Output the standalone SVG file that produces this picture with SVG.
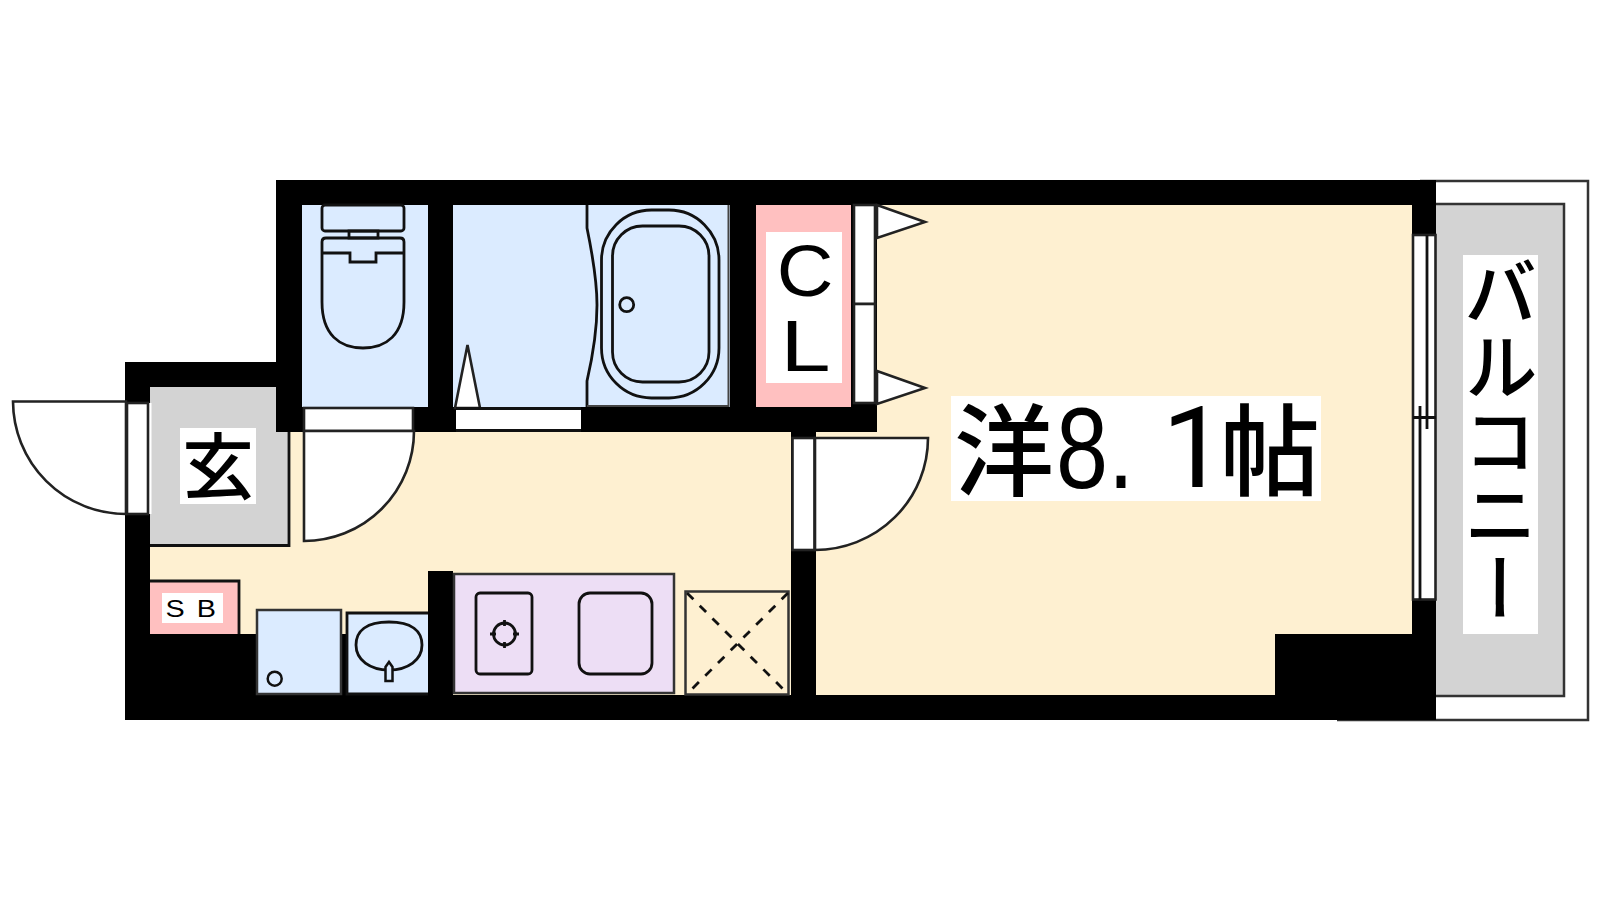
<svg xmlns="http://www.w3.org/2000/svg" width="1600" height="900" viewBox="0 0 1600 900">
<style>
.ln{fill:none;stroke:#111;stroke-width:2.8}
.gl{fill:#fff;stroke:#222;stroke-width:2.6}
.jp{font-family:"Noto Sans CJK JP","Liberation Sans",sans-serif;fill:#000;font-weight:500}
.la{font-family:"Liberation Sans",sans-serif;fill:#000}
.ro{font-family:Roboto,"Liberation Sans",sans-serif;fill:#000;font-weight:400}
</style>
<rect width="1600" height="900" fill="#fff"/>
<g id="balcony">
<path d="M1337,720 H1588 V181 H1420" fill="#fff" stroke="#333" stroke-width="2.500"/>
<rect x="1432" y="204" width="132" height="492" fill="#d3d3d3" stroke="#333" stroke-width="2.500"/>
<rect x="1463" y="255" width="75" height="379" fill="#fff"/>
<text class="jp" x="1500.5" y="255" font-size="74" writing-mode="vertical-rl">バルコニー</text>
</g>
<g id="walls">
<path d="M276,180 H1436 V720 H125 V362 H276 Z" fill="#000"/>
</g>
<g id="room">
<path d="M877,205 H1412 V634 H1275 V695 H816 V432 H877 Z" fill="#fef0d1"/>
<rect x="951" y="396" width="370" height="105" fill="#fff"/>
<text class="jp" y="488" font-size="100"><tspan x="954">洋</tspan><tspan class="la" x="1056" y="488" font-size="115" textLength="78" lengthAdjust="spacingAndGlyphs">8.</tspan><tspan class="ro" x="1162" y="487" font-size="114">1</tspan><tspan x="1220" y="488">帖</tspan></text>
</g>
<g id="corridor">
<path d="M289,432 H791 V695 H453 V571 H428 V634 H150 V545 H289 Z" fill="#fef0d1"/>
</g>
<g id="entrance">
<path d="M150,387 H276 V432 H289 V545.5 H150 Z" fill="#d3d3d3"/>
<path d="M150,545.5 H289 V432" class="ln" stroke="#333"/>
<rect x="180" y="428" width="76" height="76" fill="#fff"/>
<text class="jp" x="182" y="493" font-size="72">玄</text>
<rect x="127" y="403" width="24.500" height="111" fill="#fff"/>
<rect x="127" y="403" width="21" height="111" class="gl"/>
<path d="M126,401.500 H13 A113,113 0 0 0 126,514 Z" class="gl"/>
</g>
<g id="shoebox">
<path d="M150,581 H239 V634 H150 Z" fill="#ffc0c0"/>
<path d="M150,581 H239 V634" class="ln"/>
<rect x="162" y="593" width="61" height="30" fill="#fff"/>
<text class="la" transform="translate(165.500,616.500) scale(1.2,1)" x="0 26" y="0" font-size="24">SB</text>
</g>
<g id="washer">
<rect x="257" y="610" width="84" height="84" fill="#dbebff" stroke="#333" stroke-width="2.500"/>
<circle cx="274.700" cy="678.700" r="7" fill="none" stroke="#111" stroke-width="2.500"/>
</g>
<g id="basin">
<rect x="347" y="613" width="81" height="81" fill="#dbebff"/>
<path d="M428,613 H347 V694 H428" class="ln" stroke="#333"/>
<path d="M389,622 C412,622 422,631 422,645 C422,660 408,670 389,670 C370,670 356,660 356,645 C356,631 366,622 389,622 Z" class="ln"/>
<path d="M385.500,681 V667 L389,662 L392.500,667 V681 Z" fill="#dbebff" stroke="#111" stroke-width="2.500"/>
</g>
<g id="kitchen">
<rect x="454" y="574" width="220" height="119" fill="#eddef5" stroke="#333" stroke-width="2.500"/>
<rect x="476" y="593" width="56" height="81" rx="4" class="ln"/>
<circle cx="504.500" cy="634" r="11" class="ln"/>
<path d="M504.500,620 V626 M504.500,642 V648 M490,634 H496 M513,634 H519" class="ln"/>
<rect x="579" y="593" width="73" height="81" rx="11" class="ln"/>
</g>
<g id="fridge">
<rect x="685.500" y="591.500" width="103" height="103" fill="#fef0d1" stroke="#333" stroke-width="2.500"/>
<path d="M687,593 L788,694 M788,593 L687,694" class="ln" stroke-dasharray="9 9" stroke-width="3"/>
</g>
<g id="toilet">
<rect x="302" y="205" width="126" height="202" fill="#dbebff"/>
<rect x="322" y="205" width="82" height="26" rx="3" class="ln"/>
<rect x="349" y="231" width="29" height="7" class="ln"/>
<path d="M322,253 V242 Q322,238 326,238 H400 Q404,238 404,242 V253 M322,253 H350 V262 H376 V253 H404" class="ln"/>
<path d="M322,253 V302 C322,335 340,348 363,348 C386,348 404,335 404,302 V253" class="ln"/>
<rect x="304" y="408" width="109" height="23" class="gl"/>
<path d="M304,431 H414 A110,110 0 0 1 304,541 Z" class="gl"/>
</g>
<g id="bath">
<rect x="453" y="205" width="277" height="202" fill="#dbebff"/>
<path d="M587,205 V228 C594,262 597,285 597,305 C597,330 593,355 587,381 V407" class="ln"/>
<path d="M587,406 H728.500 V205" fill="none" stroke="#444" stroke-width="2"/>
<rect x="601.500" y="210" width="117.500" height="188" rx="50" class="ln"/>
<rect x="612.500" y="226" width="96.500" height="156" rx="30" class="ln"/>
<circle cx="626.700" cy="304.700" r="7" class="ln"/>
<path d="M455,408 L467.500,345 L480,408 Z" class="gl"/>
<rect x="456" y="408" width="125" height="23" fill="#fff"/>
<path d="M456,408.500 H581 M456,430.500 H581" class="ln"/>
</g>
<g id="closet">
<rect x="756" y="205" width="95" height="202" fill="#ffc0c0"/>
<rect x="766" y="232" width="76" height="151" fill="#fff"/>
<text class="la" transform="translate(776.800,296) scale(1.09,1)" font-size="72">C</text>
<text class="la" transform="translate(780.400,371) scale(1.25,1)" font-size="72">L</text>
<rect x="854" y="205" width="21" height="99" class="gl"/>
<rect x="854" y="304" width="21" height="99" class="gl"/>
<path d="M877,205 L925,222 L877,238 Z" class="gl"/>
<path d="M877,371 L925,388 L877,404 Z" class="gl"/>
</g>
<g id="room-door">
<rect x="792.500" y="438" width="22" height="112" class="gl"/>
<path d="M815,438 H928 A113,112 0 0 1 815,550 Z" class="gl"/>
</g>
<g id="window">
<rect x="1413" y="235" width="22.500" height="364.500" class="gl"/>
<path d="M1413,417.500 H1436 M1427,235 V429 M1420,406 V599.500" class="ln"/>
</g>
</svg>
